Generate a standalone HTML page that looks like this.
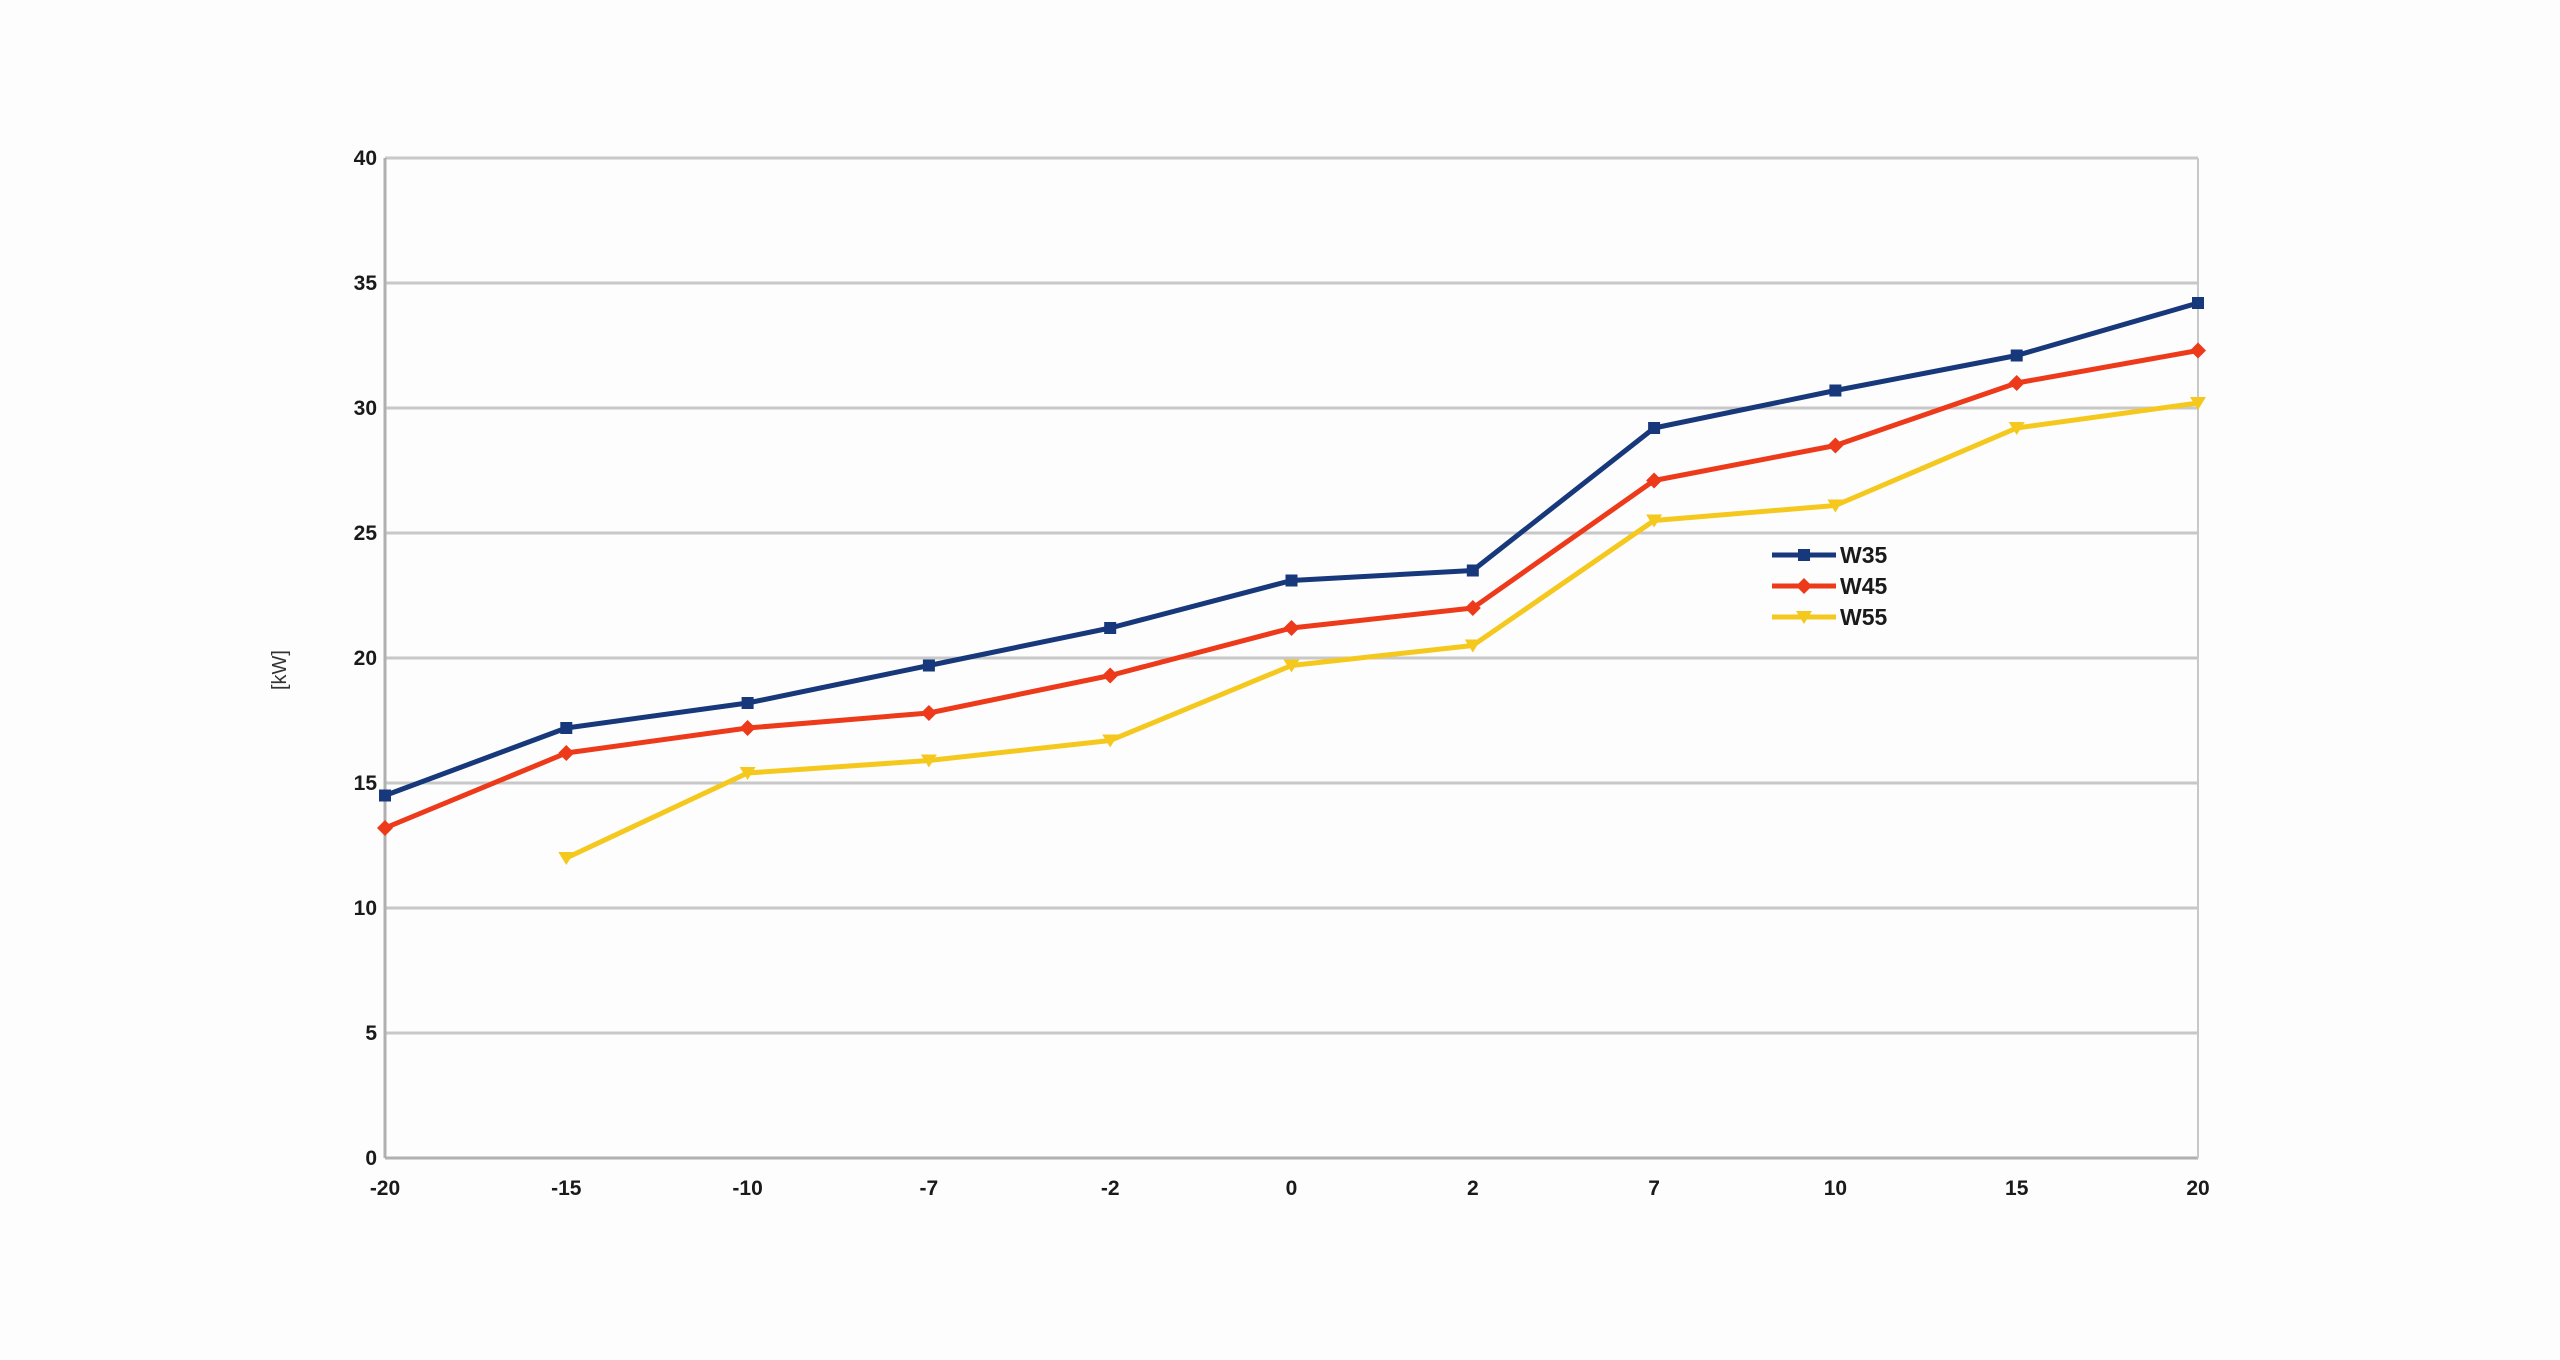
<!DOCTYPE html>
<html><head><meta charset="utf-8"><style>
html,body{margin:0;padding:0;background:#fff;}
svg{display:block;font-family:"Liberation Sans",sans-serif;}
</style></head><body>
<svg id="chart" width="2560" height="1360" viewBox="0 0 2560 1360" xmlns="http://www.w3.org/2000/svg">
<rect x="0" y="0" width="2560" height="1360" fill="#fdfdfd"/>
<g id="grid"></g><g id="series"></g><g id="labels"></g>
<text x="286" y="670" font-size="20" fill="#333" text-anchor="middle" transform="rotate(-90 286 670)">[kW]</text>
<g id="legend"></g>
</svg>
<script>
const categories = ["-20","-15","-10","-7","-2","0","2","7","10","15","20"];
const w35 = [14.5,17.2,18.2,19.7,21.2,23.1,23.5,29.2,30.7,32.1,34.2];
const w45 = [13.2,16.2,17.2,17.8,19.3,21.2,22.0,27.1,28.5,31.0,32.3];
const w55 = [null,12.0,15.4,15.9,16.7,19.7,20.5,25.5,26.1,29.2,30.2];
const yTicks = [0,5,10,15,20,25,30,35,40];
const seriesNames = ["W35","W45","W55"];

const NS="http://www.w3.org/2000/svg";
const X0=385,X1=2198,Y0=1158,Y1=158,YMAX=40;
const xs=i=>X0+(X1-X0)*i/(categories.length-1);
const ys=v=>Y0-(Y0-Y1)*v/YMAX;
function mk(tag,attrs,parent){const e=document.createElementNS(NS,tag);for(const k in attrs)e.setAttribute(k,attrs[k]);parent.appendChild(e);return e;}
const grid=document.getElementById('grid'),labels=document.getElementById('labels'),ser=document.getElementById('series'),leg=document.getElementById('legend');
yTicks.forEach(t=>{
  const l=mk('line',{x1:X0,x2:X1,y1:ys(t),y2:ys(t),stroke:t===0?'#b0b0b0':'#c8c8c8','stroke-width':3},grid);
  
  
  const tx=mk('text',{x:X0-8,y:ys(t)+7,'font-size':21,'font-weight':'bold',fill:'#1a1a1a','text-anchor':'end'},labels);
  tx.textContent=t;
  
  
});
const ax=mk('line',{x1:X0,x2:X0,y1:Y1,y2:Y0,stroke:'#b0b0b0','stroke-width':3},grid);


const ax2=mk('line',{x1:X1,x2:X1,y1:Y1,y2:Y0,stroke:'#c8c8c8','stroke-width':2},grid);


categories.forEach((c,i)=>{
  const tx=mk('text',{x:xs(i),y:Y0+37,'font-size':21,'font-weight':'bold',fill:'#1a1a1a','text-anchor':'middle'},labels);
  tx.textContent=c;
  
  
});
const cols=['#17387a','#ec3a1a','#f5c81e'];
function marker(kind,x,y,col,parent){
  let m;
  if(kind===0)m=mk('rect',{x:x-6,y:y-6,width:12,height:12,fill:col},parent);
  else if(kind===1)m=mk('polygon',{points:`${x},${y-8} ${x+8},${y} ${x},${y+8} ${x-8},${y}`,fill:col},parent);
  else m=mk('polygon',{points:`${x-8},${y-6} ${x+8},${y-6} ${x},${y+7}`,fill:col},parent);
  return m;
}
[w35,w45,w55].forEach((arr,k)=>{
  const g=mk('g',{},ser);
  
  
  let d='';arr.forEach((v,i)=>{if(v==null)return;d+=(d?'L':'M')+xs(i)+','+ys(v);});
  const p=mk('path',{d:d,fill:'none',stroke:cols[k],'stroke-width':5,'stroke-linejoin':'round'},g);
  
  
  arr.forEach((v,i)=>{if(v==null)return;
    const m=marker(k,xs(i),ys(v),cols[k],g);
    
    
  });
});
seriesNames.forEach((n,k)=>{
  const y=555+k*31;
  const g=mk('g',{},leg);
  
  
  mk('line',{x1:1772,x2:1836,y1:y,y2:y,stroke:cols[k],'stroke-width':5},g);
  marker(k,1804,y,cols[k],g);
  const t=mk('text',{x:1840,y:y+8,'font-size':23,'font-weight':'bold',fill:'#1a1a1a'},g);
  t.textContent=n;
});
</script>
</body></html>
